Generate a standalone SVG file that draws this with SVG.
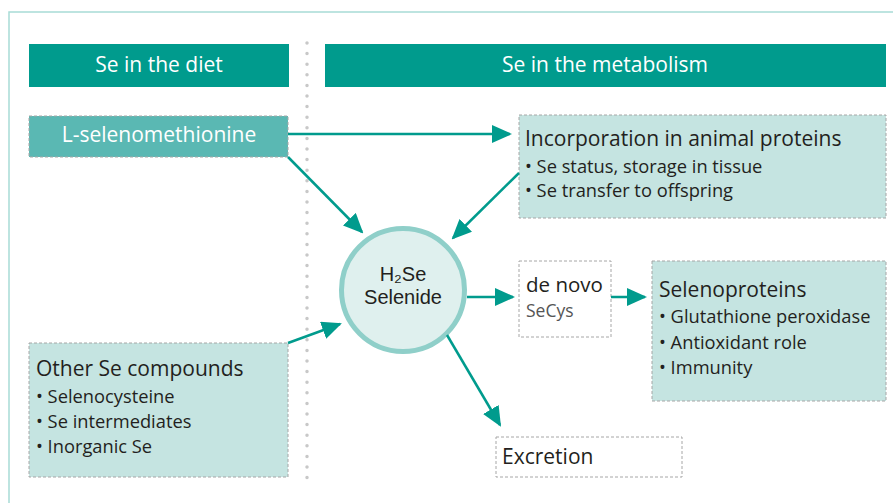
<svg xmlns="http://www.w3.org/2000/svg" width="893" height="503" viewBox="0 0 893 503">
<style>
text{font-family:"Open Sans","Liberation Sans",sans-serif;fill:#231f20}
.hdr{fill:#009b8d}
.hdrt{fill:#fff;font-size:21px;text-anchor:middle}
.box{fill:#c5e4e1;stroke:#a6a6a6;stroke-width:1;stroke-dasharray:3,2}
.wbox{fill:#fff;stroke:#a6a6a6;stroke-width:1;stroke-dasharray:3,2}
.title{font-size:21px;font-weight:500}
.item{font-size:18.3px}
.circ{font-family:"Liberation Sans",sans-serif;font-size:20px;text-anchor:middle}
.conn line{stroke:#009b8d;stroke-width:2.5;marker-end:url(#ah)}
</style>
<defs>
<marker id="ah" markerUnits="userSpaceOnUse" markerWidth="20" markerHeight="18" viewBox="0 0 20 18" refX="18" refY="9" orient="auto">
<path d="M0,0 L20,9 L0,18 Z" fill="#009b8d"/>
</marker>
</defs>
<rect width="893" height="503" fill="#fff"/>
<rect x="9" y="12" width="900" height="500" fill="none" stroke="#a8dcd6" stroke-width="1.5"/>
<line x1="307" y1="43" x2="307" y2="480" stroke="#c8c8c8" stroke-width="3.5" stroke-linecap="round" stroke-dasharray="0,10.6"/>
<g id="hdr-diet"><rect class="hdr" x="29" y="44" width="260" height="43"/><text class="hdrt" x="159" y="72">Se in the diet</text></g>
<g id="hdr-metab"><rect class="hdr" x="325" y="44" width="561" height="43"/><text class="hdrt" x="605" y="72">Se in the metabolism</text></g>
<g id="lsm"><rect x="29" y="116" width="259" height="41" fill="#5ab8b3" stroke="#a6a6a6" stroke-dasharray="3,2"/><text x="159" y="142" class="hdrt">L-selenomethionine</text></g>
<g id="other"><rect class="box" x="29" y="343" width="259" height="134"/>
<text class="title" x="36" y="376">Other Se compounds</text>
<text class="item" x="36" y="403">• Selenocysteine</text>
<text class="item" x="36" y="428">• Se intermediates</text>
<text class="item" x="36" y="453">• Inorganic Se</text></g>
<g id="incorp"><rect class="box" x="519" y="115" width="367" height="103"/>
<text class="title" x="525" y="146">Incorporation in animal proteins</text>
<text class="item" x="525" y="173">• Se status, storage in tissue</text>
<text class="item" x="525" y="197">• Se transfer to offspring</text></g>
<g id="selenide"><circle cx="403" cy="290" r="61.5" fill="#dff0ee" stroke="#8fcfc9" stroke-width="5"/>
<text class="circ" x="403" y="281">H₂Se</text>
<text class="circ" x="403" y="304">Selenide</text></g>
<g id="denovo"><rect class="wbox" x="519" y="261" width="92" height="76"/>
<text x="526" y="292" style="font-size:20.5px;font-weight:500">de novo</text>
<text x="526" y="317" style="font-size:17.5px;fill:#555">SeCys</text></g>
<g id="selenoproteins"><rect class="box" x="652" y="261" width="234" height="140"/>
<text class="title" x="659" y="297">Selenoproteins</text>
<text class="item" x="659" y="323">• Glutathione peroxidase</text>
<text class="item" x="659" y="349">• Antioxidant role</text>
<text class="item" x="659" y="374">• Immunity</text></g>
<g id="excretion"><rect class="wbox" x="496" y="437" width="186" height="40"/>
<text class="title" x="502" y="464">Excretion</text></g>
<g class="conn">
<line x1="288" y1="134" x2="510" y2="134"/>
<line x1="288" y1="157" x2="362" y2="232"/>
<line x1="519" y1="173" x2="453" y2="238"/>
<line x1="288" y1="343" x2="340" y2="324"/>
<line x1="467" y1="297" x2="513" y2="297"/>
<line x1="611" y1="297" x2="645" y2="297"/>
<line x1="447" y1="335" x2="500" y2="425"/>
</g>
</svg>
